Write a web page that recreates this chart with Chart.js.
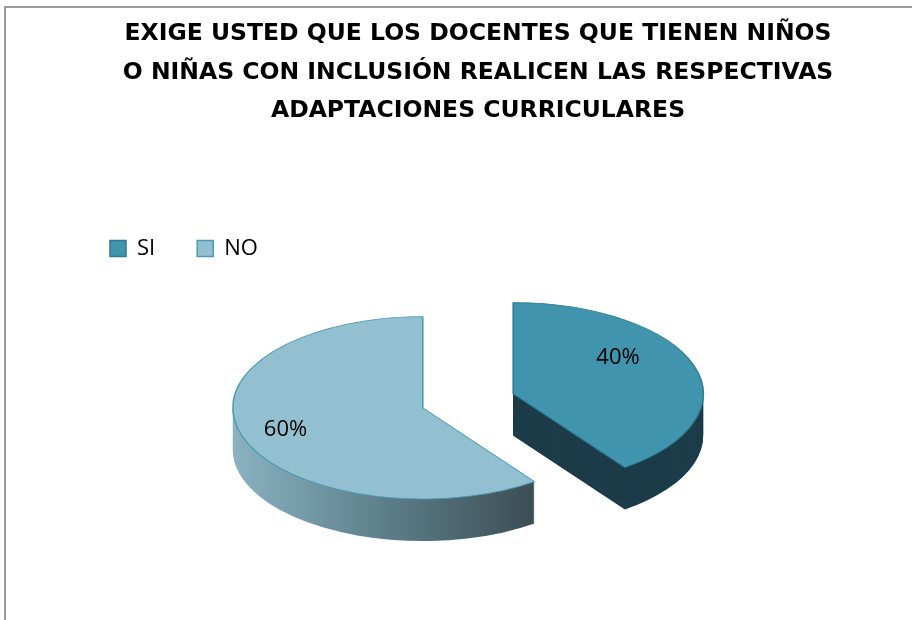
<!DOCTYPE html>
<html>
<head>
<meta charset="utf-8">
<script src="https://cdn.jsdelivr.net/npm/chart.js@4.4.1/dist/chart.umd.min.js"></script>
<style>
  html, body { margin: 0; background: #fff; }
  #wrap { width: 912px; height: 620px; }
</style>
</head>
<body>
<div id="wrap"><canvas id="chart-adaptaciones"></canvas></div>
<script>
// ── Data ──────────────────────────────────
const titleLines = [
  'EXIGE USTED QUE LOS DOCENTES QUE TIENEN NIÑOS',
  'O NIÑAS CON INCLUSIÓN REALICEN LAS RESPECTIVAS',
  'ADAPTACIONES CURRICULARES',
];
const categories = ['SI', 'NO'];
const percentages = [40, 60];

// ── Look of the 3D pie ────────────────────
const TOP_COLORS = ['#4194ad', '#92c0d0'];
const EDGE_COLORS = ['#2f7a90', '#4a9ab2'];
const TILT = 0.48;          // vertical squash of the disc
const DEPTH = 42;           // thickness in px
const EXPLODE = [37, 58];   // how far each slice is pulled out
const LABEL_R = [0.58, 0.76];
const LABEL_DY = [-20, 0];  // back half looks flatter in the original

function sideFill(ctx, i, arc) {
  if (i === 0) return '#1c3c4a';
  const g = ctx.createLinearGradient(arc.x - arc.outerRadius, 0, arc.x + arc.outerRadius * 0.64, 0);
  g.addColorStop(0, '#8ab2c1');
  g.addColorStop(0.5, '#5b7d89');
  g.addColorStop(1, '#3a4a50');
  return g;
}

function project(ctx, arc, i, dy) {
  const mid = (arc.startAngle + arc.endAngle) / 2;
  ctx.translate(arc.x, arc.y + dy);
  ctx.scale(1, TILT);
  ctx.translate(-arc.x + Math.cos(mid) * EXPLODE[i], -arc.y + Math.sin(mid) * EXPLODE[i]);
}

// ── Plugins ───────────────────────────────
const frame = {
  id: 'frame',
  beforeDraw(chart) {
    const ctx = chart.ctx;
    ctx.save();
    ctx.fillStyle = '#9a9a9a';
    ctx.fillRect(4, 6, 2, chart.height - 6);
    ctx.fillRect(4, 6, chart.width - 4, 2);
    ctx.restore();
  },
};

const pie3d = {
  id: 'pie3d',
  beforeDatasetsDraw(chart) {
    const ctx = chart.ctx;
    const arcs = chart.getDatasetMeta(0).data;
    // sides: stack copies of each slice downwards
    arcs.forEach((arc, i) => {
      const side = Object.create(arc);
      side.options = Object.assign({}, arc.options, {
        backgroundColor: sideFill(ctx, i, arc),
        borderWidth: 0,
      });
      for (let d = DEPTH; d > 0; d--) {
        ctx.save();
        project(ctx, arc, i, d);
        side.draw(ctx);
        ctx.restore();
      }
    });
    // top faces
    arcs.forEach((arc, i) => {
      ctx.save();
      project(ctx, arc, i, 0);
      arc.draw(ctx);
      ctx.restore();
    });
    return false;
  },
  afterDraw(chart) {
    const ctx = chart.ctx;
    const arcs = chart.getDatasetMeta(0).data;
    ctx.save();
    ctx.font = "22px 'Open Sans'";
    ctx.fillStyle = '#000';
    ctx.textAlign = 'center';
    ctx.textBaseline = 'middle';
    arcs.forEach((arc, i) => {
      const mid = (arc.startAngle + arc.endAngle) / 2;
      const rr = arc.outerRadius * LABEL_R[i] + EXPLODE[i];
      const x = arc.x + Math.cos(mid) * rr;
      const y = arc.y + Math.sin(mid) * rr * TILT + LABEL_DY[i];
      ctx.fillText(percentages[i] + '%', x, y);
    });
    ctx.restore();
  },
};

// ── Chart ─────────────────────────────────
new Chart(document.getElementById('chart-adaptaciones'), {
  type: 'pie',
  data: {
    labels: categories,
    datasets: [{
      data: percentages,
      backgroundColor: TOP_COLORS,
      borderColor: EDGE_COLORS,
      borderWidth: 1.5,
      radius: 190,
    }],
  },
  options: {
    responsive: true,
    maintainAspectRatio: false,
    animation: false,
    events: [],
    layout: { padding: { top: 15, left: 68, right: 24, bottom: 91 } },
    plugins: {
      title: {
        display: true,
        text: titleLines,
        color: '#000',
        font: { family: "'DejaVu Sans', sans-serif", size: 23.5, weight: 'bold', lineHeight: 1.638 },
        padding: { top: 0, bottom: 65 },
      },
      legend: {
        position: 'top',
        align: 'start',
        labels: {
          color: '#000',
          boxWidth: 16,
          boxHeight: 16,
          padding: 42,
          font: { family: "'Open Sans', sans-serif", size: 22 },
        },
      },
      tooltip: { enabled: false },
    },
  },
  plugins: [frame, pie3d],
});
</script>
</body>
</html>
